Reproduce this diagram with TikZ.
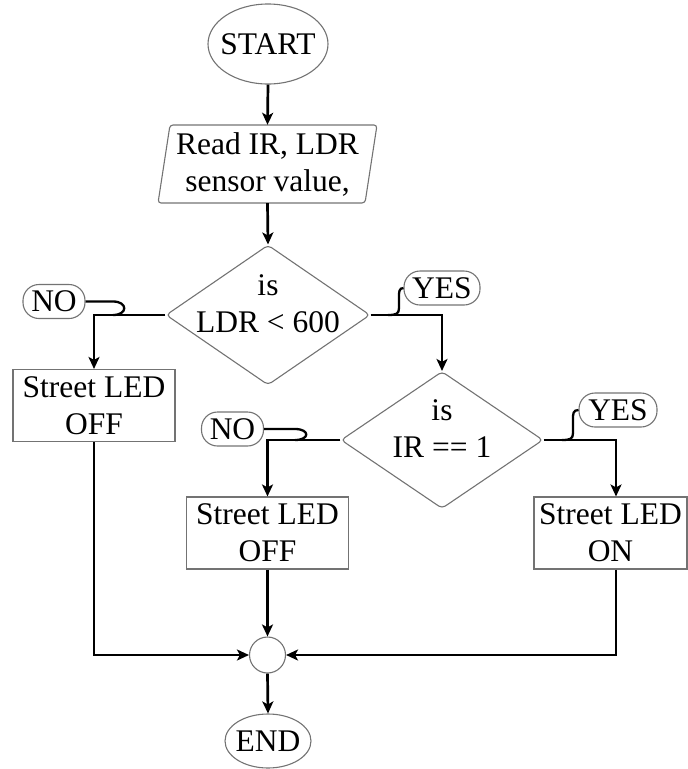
\documentclass[tikz,border=0pt]{standalone}
\usepackage{fontspec}
\setmainfont{Liberation Serif}
\usetikzlibrary{shapes.geometric,arrows.meta}
\begin{document}
\begin{tikzpicture}[x=1pt,y=-1pt,
  shp/.style={draw=black!55, line width=1.1pt},
  txt/.style={font=\fontsize{31.5}{37}\selectfont, align=center, inner sep=0pt},
  ell/.style={shp, ellipse, inner sep=0pt},
  box/.style={shp, rectangle, minimum height=72pt, inner sep=0pt, txt},
  dia/.style={shp, diamond, rounded corners=4pt, inner sep=0pt},
  tag/.style={shp, rectangle, rounded corners=16pt, inner sep=0pt, minimum height=34pt, font=\fontsize{31.5}{37}\selectfont},
  conn/.style={line width=2.7pt, -{Stealth[length=12pt,width=11pt,inset=3pt]}},
  hook/.style={line width=2.3pt}
]
\useasboundingbox (0,0) rectangle (688,769);

% terminals
\node[ell, minimum width=120pt, minimum height=80pt] (start) at (268,44) {};
\node[txt] (startt) at (start) {START};
\node[ell, minimum width=86pt, minimum height=54pt] (end) at (268,741) {};
\node[txt] (endt) at (end) {END};

% input
\node[txt, minimum width=195pt, minimum height=78pt] (read) at (267.5,164) {Read IR, LDR\\sensor value,};
\draw[shp, rounded corners=3pt] (170,125) -- (377,125) -- (365,203) -- (158,203) -- cycle;

% decisions
\node[dia, minimum width=204pt, minimum height=140pt] (d1) at (268,315) {};
\node[txt] (d1t) at (268,304) {is\\LDR < 600};
\node[dia, minimum width=202pt, minimum height=137pt] (d2) at (442,440) {};
\node[txt] (d2t) at (442,429) {is\\IR == 1};

% processes
\node[box, minimum width=162pt] (b1) at (94,405.5) {Street LED\\OFF};
\node[box, minimum width=162pt] (b2) at (267.5,533) {Street LED\\OFF};
\node[box, minimum width=153pt] (b3) at (610.5,533) {Street LED\\ON};

% junction
\node[shp, circle, minimum size=36pt, inner sep=0pt] (j) at (267.5,655) {};

% labels
\node[tag, minimum width=62pt] (no1) at (54,301.5) {NO};
\node[tag, minimum width=62pt] (no2) at (232.5,429) {NO};
\node[tag, minimum width=76pt] (yes1) at (442,288) {YES};
\node[tag, minimum width=78pt] (yes2) at (618,410) {YES};

% connectors
\draw[conn] (start.south) -- (read.north);
\draw[conn] (read.south) -- (d1.north);
\draw[conn] (d1.west) -| (b1.north);
\draw[conn] (d1.east) -| (d2.north);
\draw[conn] (d2.west) -| (b2.north);
\draw[conn] (d2.east) -| ([xshift=5.5pt]b3.north);
\draw[conn] (b1.south) |- (j.west);
\draw[conn] (b2.south) -- (j.north);
\draw[conn] ([xshift=5.5pt]b3.south) |- (j.east);
\draw[conn] (j.south) -- (end.north);

% label hooks
\draw[hook] (no1.east) -- (113,301.5) .. controls (128,301.5) and (128,315) .. (113,315);
\draw[hook] (no2.east) -- (295,429) .. controls (310,429) and (310,440) .. (295,440);
\draw[hook] (yes1.west) .. controls (399,288) and (399,292) .. (399,297) -- (399,308) .. controls (399,314) and (396,315) .. (388,315);
\draw[hook] (yes2.west) .. controls (573,410) and (573,414) .. (573,419) -- (573,433) .. controls (573,439) and (570,440) .. (562,440);
\end{tikzpicture}
\end{document}
